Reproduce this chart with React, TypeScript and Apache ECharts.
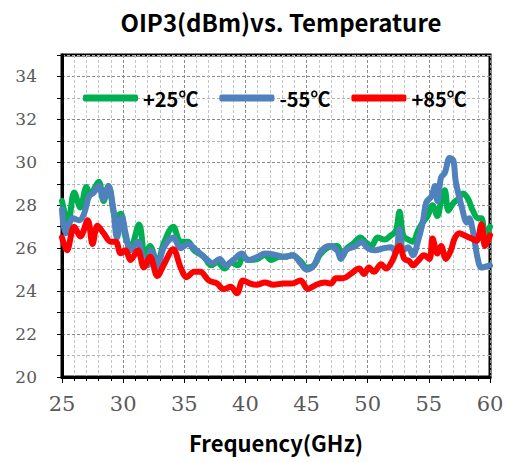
import React, { useEffect, useRef } from "react";
import * as echarts from "echarts";

const titleText = "OIP3(dBm)vs. Temperature";
const xName = "Frequency(GHz)";
const seriesNames = ["+25℃", "-55℃", "+85℃"];
const seriesColors = ["#00B050", "#4F81BD", "#FF0000"];

const p25: [number, number][] = [
  [25.0, 28.2], [25.5, 27.2], [26.0, 28.6], [26.5, 27.9], [27.0, 28.85], [27.3, 28.5],
  [28.0, 29.1], [28.4, 28.2], [28.8, 28.9], [29.4, 27.45], [29.8, 27.6], [30.2, 26.5],
  [30.6, 26.05], [31.3, 27.1], [31.8, 25.6], [32.2, 26.1], [32.8, 25.3], [33.3, 26.2],
  [34.1, 27.0], [34.7, 26.3], [35.3, 26.3], [35.8, 25.9], [36.6, 25.6], [37.2, 25.2],
  [37.7, 25.35], [38.3, 25.05], [38.8, 25.35], [39.4, 25.2], [39.8, 25.6], [40.3, 25.45],
  [41.0, 25.5], [41.6, 25.7], [42.1, 25.45], [42.8, 25.6], [43.3, 25.6], [43.8, 25.67],
  [44.5, 25.4], [45.0, 25.1], [45.6, 25.2], [46.1, 25.7], [46.8, 26.05], [47.5, 26.1],
  [47.9, 25.6], [48.3, 26.0], [48.8, 26.2], [49.4, 26.5], [49.8, 26.3], [50.3, 26.1],
  [50.8, 26.5], [51.4, 26.4], [51.9, 26.6], [52.3, 26.8], [52.6, 27.7], [52.9, 26.6],
  [53.3, 26.4], [53.7, 26.3], [54.1, 26.8], [54.5, 27.2], [54.9, 27.5], [55.3, 28.0],
  [55.7, 27.5], [56.0, 28.2], [56.3, 28.7], [56.6, 27.75], [57.0, 28.1], [57.4, 28.3],
  [57.8, 28.55], [58.2, 28.3], [58.6, 27.75], [59.0, 27.4], [59.3, 27.4], [59.6, 26.6],
  [60.0, 27.0],
];

const m55: [number, number][] = [
  [25.0, 27.8], [25.3, 26.7], [25.9, 27.4], [26.4, 27.3], [26.8, 27.6], [27.2, 28.4],
  [27.6, 28.6], [28.0, 28.9], [28.4, 28.3], [28.8, 28.9], [29.2, 27.8], [29.5, 26.5],
  [29.9, 27.45], [30.2, 26.7], [30.6, 25.9], [31.2, 26.3], [31.6, 25.6], [32.0, 25.2],
  [32.3, 25.9], [32.8, 25.1], [33.3, 26.0], [34.1, 26.5], [34.7, 26.0], [35.3, 26.2],
  [36.0, 25.9], [36.8, 25.5], [37.3, 25.3], [37.9, 25.5], [38.4, 25.2], [39.0, 25.45],
  [39.7, 25.75], [40.2, 25.45], [41.0, 25.6], [41.6, 25.75], [42.4, 25.7], [43.1, 25.6],
  [43.9, 25.67], [44.5, 25.3], [45.0, 25.0], [45.6, 25.2], [46.1, 25.8], [46.8, 26.1],
  [47.5, 25.9], [47.8, 25.5], [48.2, 25.9], [49.0, 26.1], [49.5, 26.3], [50.0, 26.0],
  [50.6, 25.9], [51.3, 26.0], [51.9, 26.05], [52.3, 25.8], [52.6, 26.9], [52.9, 25.9],
  [53.3, 26.05], [53.7, 25.67], [54.1, 26.3], [54.5, 27.2], [54.8, 28.15], [55.2, 28.4],
  [55.5, 28.9], [55.7, 28.2], [56.0, 29.3], [56.3, 29.5], [56.7, 30.2], [57.0, 30.1],
  [57.2, 29.1], [57.7, 27.9], [58.1, 27.2], [58.3, 27.4], [58.6, 26.8], [59.0, 25.5],
  [59.3, 25.1], [60.0, 25.2],
];

const p85: [number, number][] = [
  [25.0, 26.5], [25.4, 25.9], [26.0, 27.0], [26.5, 26.55], [27.1, 27.3], [27.5, 26.2],
  [27.9, 27.05], [28.4, 26.7], [29.0, 26.3], [29.4, 26.3], [29.8, 25.76], [30.2, 25.9],
  [30.6, 25.45], [31.2, 25.9], [31.7, 25.1], [32.2, 25.6], [32.8, 24.7], [33.3, 25.2],
  [34.1, 25.95], [34.7, 25.1], [35.2, 24.65], [35.8, 24.9], [36.3, 24.9], [37.0, 24.5],
  [37.7, 24.35], [38.2, 24.1], [38.8, 24.2], [39.3, 23.9], [39.8, 24.5], [40.4, 24.35],
  [40.9, 24.3], [41.6, 24.4], [42.3, 24.3], [43.1, 24.35], [43.8, 24.35], [44.5, 24.5],
  [45.1, 24.1], [45.8, 24.3], [46.5, 24.4], [47.0, 24.35], [47.4, 24.6], [48.0, 24.6],
  [48.6, 24.8], [49.3, 25.05], [49.7, 24.8], [50.1, 25.1], [50.5, 24.9], [51.1, 25.25],
  [51.5, 25.05], [52.0, 25.4], [52.6, 26.1], [53.0, 25.5], [53.4, 25.4], [53.7, 25.2],
  [54.1, 25.4], [54.6, 25.67], [55.05, 25.5], [55.3, 26.45], [55.7, 25.75], [56.0, 26.1],
  [56.4, 25.5], [56.8, 25.9], [57.1, 26.45], [57.5, 26.7], [57.9, 26.6], [58.5, 26.45],
  [58.9, 26.35], [59.3, 27.1], [59.6, 26.1], [60.0, 26.6],
];

const seriesData = [p25, m55, p85];

export default function App() {
  const ref = useRef<HTMLDivElement>(null);
  useEffect(() => {
    document.body.style.margin = "0";
    const chart = echarts.init(ref.current!, undefined, { renderer: "svg" });
    const boldFont = "Noto Sans CJK SC";
    const serifFont = "DejaVu Serif";
    chart.setOption({
      animation: false,
      backgroundColor: "#ffffff",
      graphic: [
        {
          type: "text",
          x: 281,
          y: 21,
          style: {
            text: titleText,
            font: `bold 24px "${boldFont}"`,
            fill: "#000",
            textAlign: "center",
            textVerticalAlign: "middle",
          },
        },
      ],
      legend: {
        left: 78,
        top: 83,
        icon: "roundRect",
        itemWidth: 55,
        itemHeight: 7,
        itemGap: 21,
        textStyle: { fontFamily: boldFont, fontWeight: "bold", fontSize: 20, color: "#000" },
        data: seriesNames,
      },
      grid: {
        left: 62,
        right: 18,
        top: 55,
        bottom: 85,
        show: true,
        backgroundColor: "#fff",
        borderColor: "#000",
        borderWidth: 3,
      },
      xAxis: {
        type: "value",
        min: 25,
        max: 60,
        interval: 5,
        name: xName,
        nameLocation: "middle",
        nameGap: 54,
        nameTextStyle: { fontFamily: boldFont, fontWeight: "bold", fontSize: 22, color: "#000" },
        axisLine: { show: true, lineStyle: { color: "#000", width: 3 } },
        axisTick: { show: true, length: 6, lineStyle: { color: "#000", width: 1 } },
        minorTick: { show: true, splitNumber: 5, length: 4, lineStyle: { color: "#000", width: 1 } },
        axisLabel: { fontFamily: serifFont, fontSize: 21, color: "#595959", margin: 16 },
        splitLine: { show: true, lineStyle: { color: "#8a8a8a", type: [3, 2], width: 1 } },
        minorSplitLine: { show: true, lineStyle: { color: "#c4c4c4", type: [3, 2], width: 1 } },
      },
      yAxis: {
        type: "value",
        min: 20,
        max: 35,
        interval: 1,
        axisLine: { show: true, lineStyle: { color: "#000", width: 3 } },
        axisTick: { show: true, length: 5, lineStyle: { color: "#000", width: 1 } },
        axisLabel: {
          fontFamily: serifFont,
          fontSize: 17,
          color: "#595959",
          margin: 25,
          formatter: (v: number) => (v % 2 === 0 && v < 35 ? String(v) : ""),
        },
        splitLine: { show: true, lineStyle: { color: ["#8a8a8a", "#b4b4b4"], type: [3, 2], width: 1 } },
      },
      series: seriesNames.map((name, i) => ({
        name,
        type: "line",
        data: seriesData[i],
        smooth: 0.35,
        showSymbol: false,
        color: seriesColors[i],
        lineStyle: { width: 6, color: seriesColors[i], cap: "round", join: "round" },
      })),
    });
    return () => chart.dispose();
  }, []);
  return <div ref={ref} style={{ width: 508, height: 462 }} />;
}
